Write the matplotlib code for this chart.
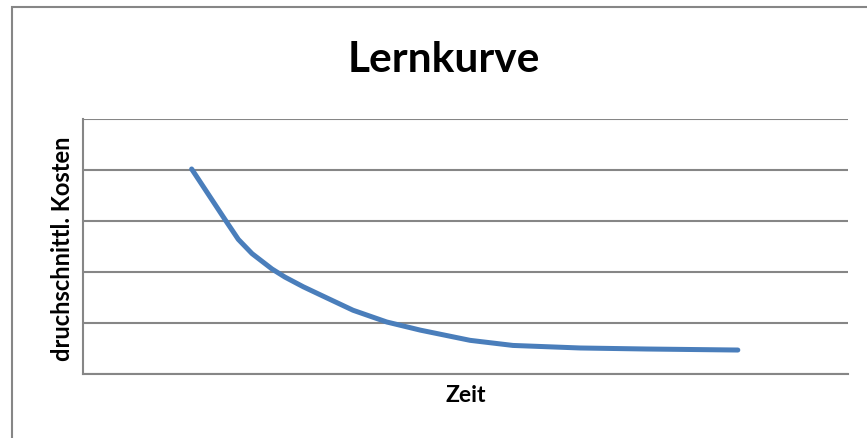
import matplotlib.pyplot as plt
from matplotlib.patches import Rectangle

# Werte (Zeit 0..100, Kosten 0..5)
zeit = [14.2, 16.4, 18.6, 20.3, 22.1, 24.7, 26.4, 28.8, 31.9, 35.3, 39.7,
        44.1, 50.6, 56.2, 65.0, 73.7, 85.6]
kosten = [4.02, 3.52, 3.02, 2.64, 2.36, 2.06, 1.90, 1.71, 1.49, 1.25, 1.02,
          0.86, 0.66, 0.56, 0.51, 0.49, 0.47]

titel = "Lernkurve"
xlabel = "Zeit"
ylabel = "druchschnittl. Kosten"

grau = "#868686"
blau = "#4A7EBB"

plt.rcParams['font.family'] = ['Lato', 'DejaVu Sans']

fig = plt.figure(figsize=(8.67, 4.39), dpi=100)
ax = fig.add_axes([83 / 867, 1 - 375 / 439, (848 - 83) / 867, (375 - 120) / 439])

ax.plot(zeit, kosten, color=blau, lw=3.6, solid_capstyle='round', solid_joinstyle='round')

ax.set_xlim(0, 100)
ax.set_ylim(0, 5)
ax.set_yticks([0, 1, 2, 3, 4, 5])
ax.set_xticks([])
ax.tick_params(length=0, labelleft=False)
ax.grid(axis='y', color=grau, lw=1.5)
ax.set_axisbelow(True)
for s in ['top', 'right']:
    ax.spines[s].set_visible(False)
for s in ['left', 'bottom']:
    ax.spines[s].set_color(grau)
    ax.spines[s].set_linewidth(1.5)

fig.text(444 / 867, 1 - 60 / 439, titel, ha='center', va='center', fontsize=30.5, fontweight='bold')
fig.text(466 / 867, 1 - 396 / 439, xlabel, ha='center', va='center', fontsize=16.5, fontweight='bold')
fig.text(63 / 867, 1 - 249 / 439, ylabel, ha='center', va='center', rotation=90, fontsize=17, fontweight='bold')

# Rahmen um das Diagramm
fig.patches.append(Rectangle((12 / 867, -0.1), 1.0, 1 - 8 / 439 + 0.1, transform=fig.transFigure,
                             fill=False, edgecolor=grau, lw=1.5))

fig.savefig("out.png", dpi=100)
